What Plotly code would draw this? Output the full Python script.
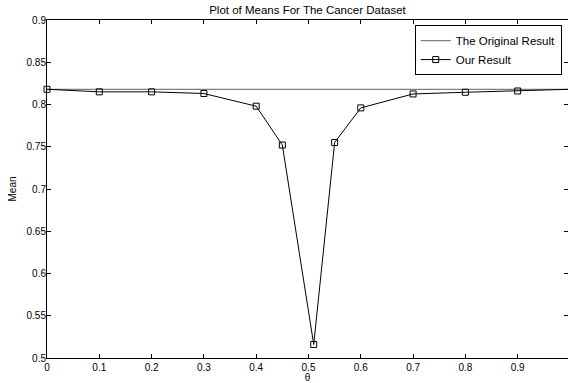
import plotly.graph_objects as go

theta = [0, 0.1, 0.2, 0.3, 0.4, 0.45, 0.51, 0.55, 0.6, 0.7, 0.8, 0.9, 1.0]
our_result = [0.818, 0.815, 0.815, 0.813, 0.798, 0.752, 0.516, 0.755, 0.796, 0.8125, 0.8145, 0.816, 0.818]
orig_x = [0, 1]
orig_y = [0.818, 0.818]
x_ticks = [0, 0.1, 0.2, 0.3, 0.4, 0.5, 0.6, 0.7, 0.8, 0.9, 1]
y_ticks = [0.5, 0.55, 0.6, 0.65, 0.7, 0.75, 0.8, 0.85, 0.9]

font = dict(family="Liberation Sans, Arial, sans-serif", size=10, color="black")
big_font = dict(family="Liberation Sans, Arial, sans-serif", size=11.5, color="black")

fig = go.Figure()
fig.add_trace(go.Scatter(x=orig_x, y=orig_y, mode="lines", name="The Original Result",
                         line=dict(color="#808080", width=1.2)))
fig.add_trace(go.Scatter(x=theta, y=our_result, mode="lines+markers", name="Our Result",
                         line=dict(color="black", width=1),
                         marker=dict(symbol="square-open", size=6, color="black", line=dict(width=1)),
                         cliponaxis=False))

axis_common = dict(showline=True, linecolor="black", linewidth=1, mirror="ticks",
                   ticks="inside", ticklen=4, tickcolor="black", showgrid=False,
                   zeroline=False, tickfont=font)

fig.update_layout(
    width=568, height=383,
    margin=dict(l=47, r=0, t=20, b=25),
    paper_bgcolor="white", plot_bgcolor="white",
    font=font,
    title=dict(text="Plot of Means For The Cancer Dataset", x=0.5, xref="paper", xanchor="center",
               y=0.975, yanchor="middle", font=big_font),
    xaxis=dict(range=[0, 0.9962], tickvals=x_ticks, ticktext=[str(v) for v in x_ticks],
               title=dict(text="θ", font=font, standoff=2), **axis_common),
    yaxis=dict(range=[0.5, 0.9], tickvals=y_ticks, ticktext=[str(v) for v in y_ticks],
               ticklabelstandoff=-2,
               title=dict(text="Mean", font=font, standoff=8), **axis_common),
    legend=dict(x=0.988, y=0.985, xanchor="right", yanchor="top",
                bordercolor="black", borderwidth=1, bgcolor="white",
                font=big_font, tracegroupgap=0, itemwidth=30),
    showlegend=True,
)

fig.write_html("out.html")
